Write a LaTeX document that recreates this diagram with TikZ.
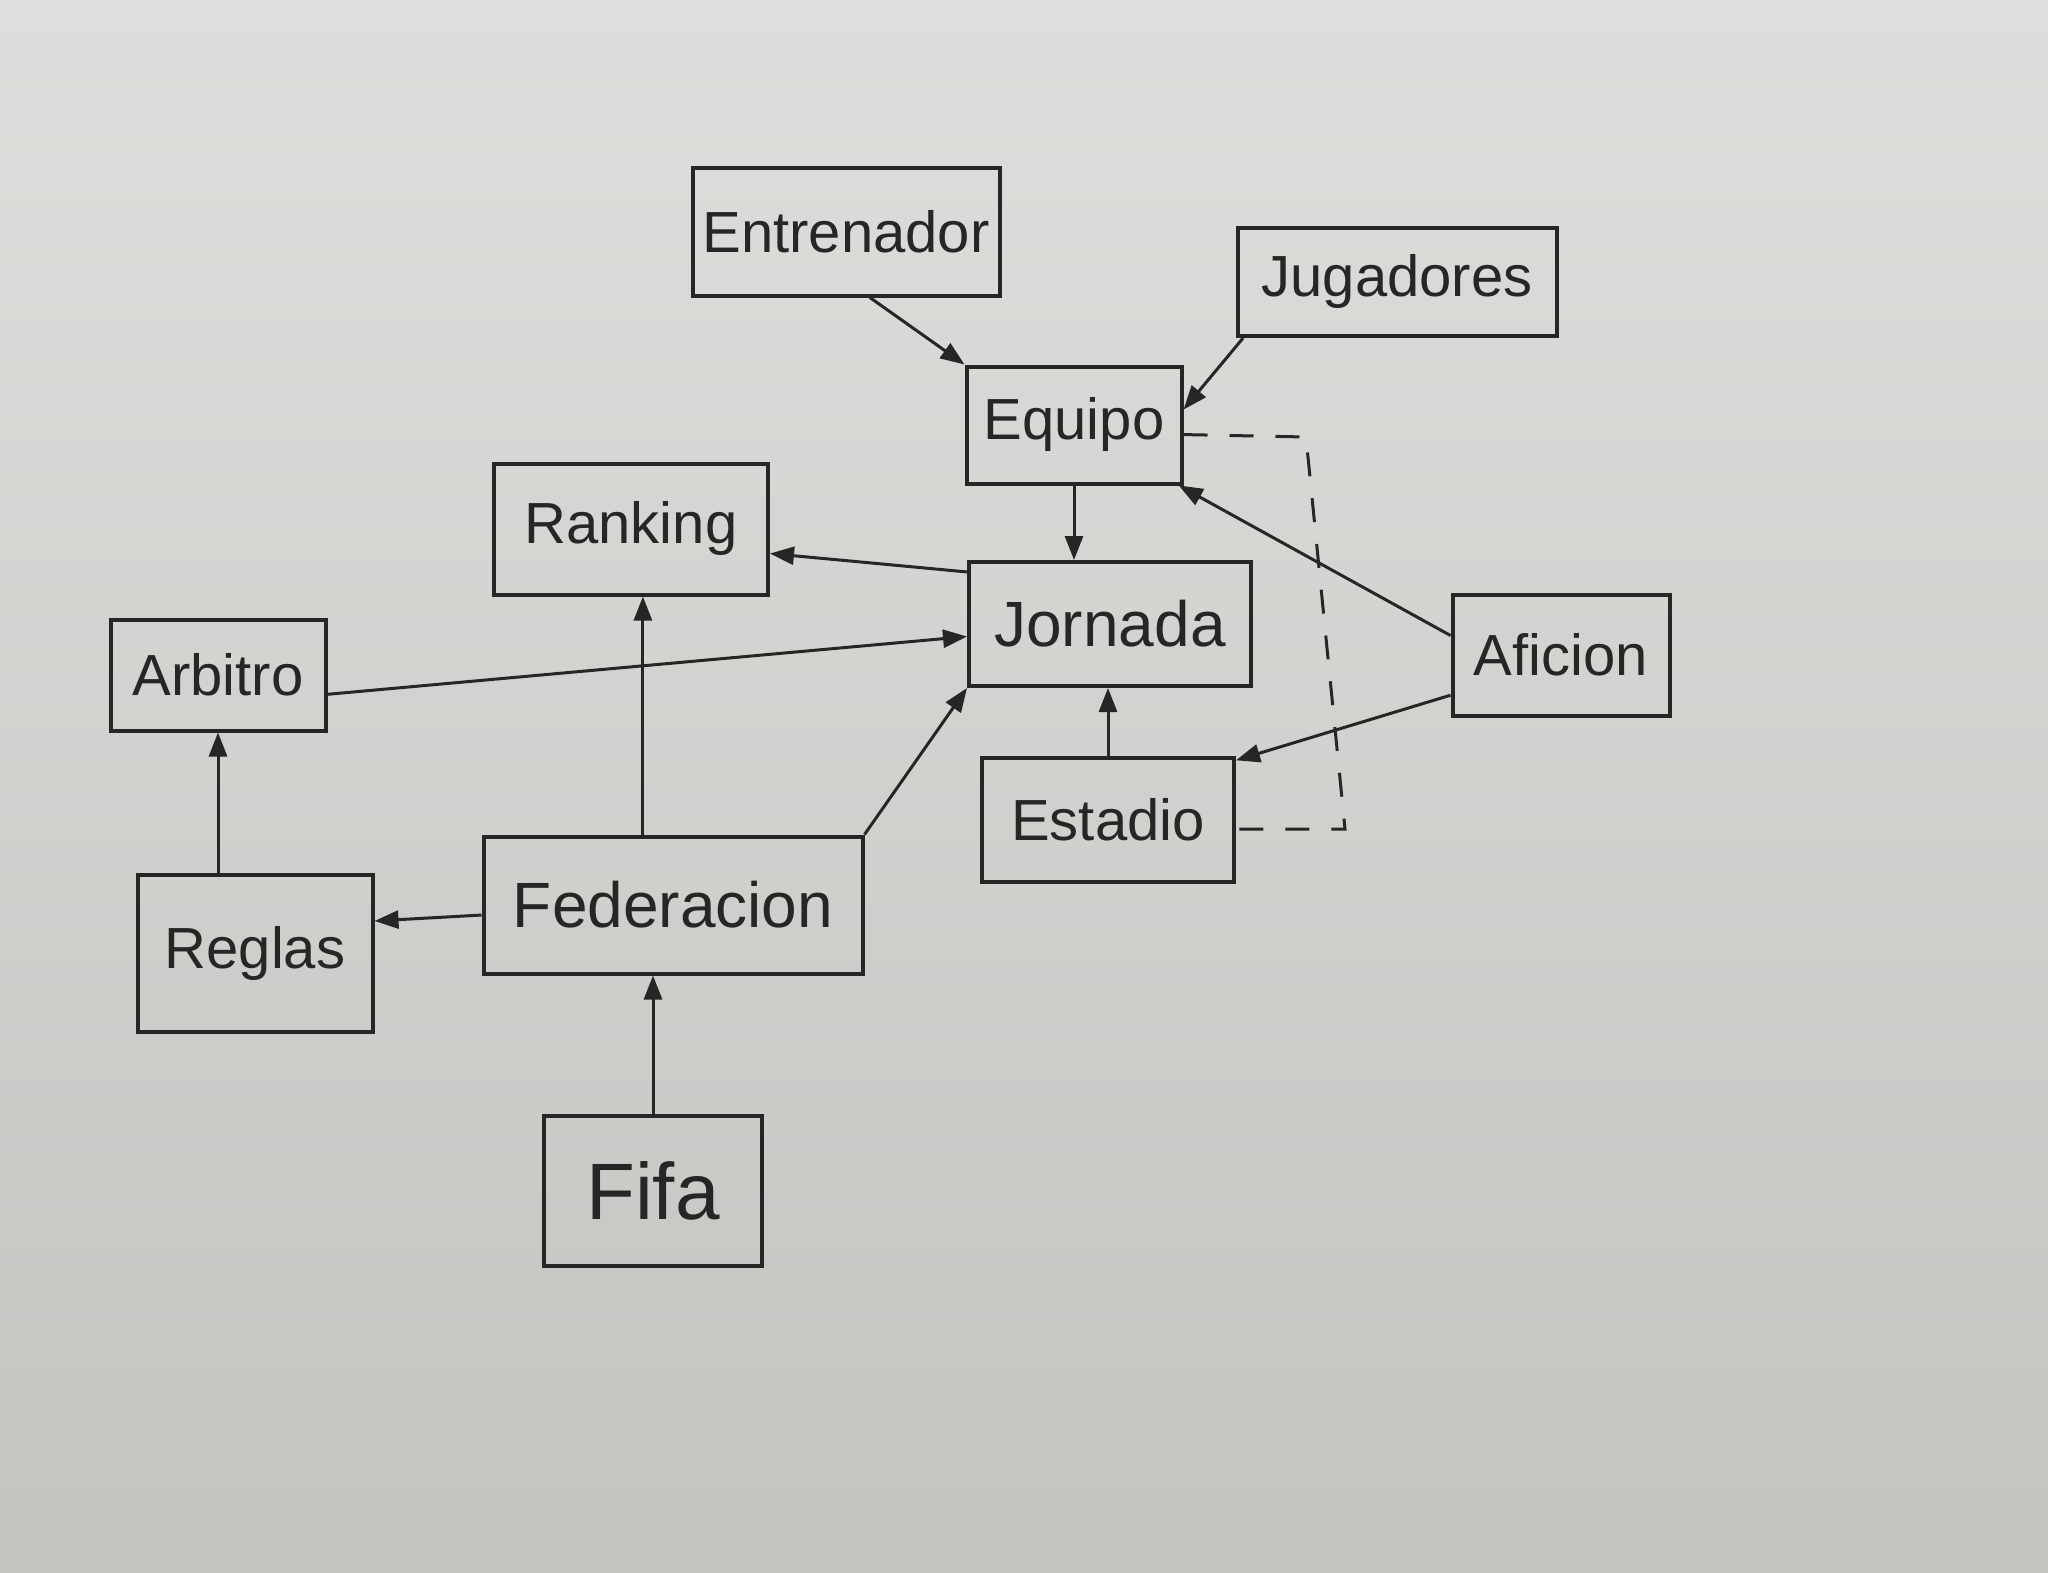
\documentclass[tikz,border=0pt]{standalone}
\usepackage{fontspec}
\setmainfont{Liberation Sans}
\usetikzlibrary{arrows.meta,calc}
\definecolor{ink}{RGB}{38,38,38}
\definecolor{paperT}{RGB}{222,222,220}
\definecolor{paperB}{RGB}{196,195,192}
\begin{document}
\begin{tikzpicture}[x=1pt,y=-1pt,
  box/.style={draw=ink, line width=4pt, text=ink, inner sep=0pt,
    font=\fontsize{58}{60}\selectfont},
  arr/.style={draw=ink, line width=3pt, -{Triangle[length=24pt,width=18pt]}},
  dashlink/.style={draw=ink, line width=3pt, dash pattern=on 24pt off 22pt}]
\shade[top color=paperT, bottom color=paperB] (0,0) rectangle (2048,1573);
\useasboundingbox (0,0) rectangle (2048,1573);

\node[box, minimum width=307pt, minimum height=127pt] (ent) at (846,232) {Entrenador};
\node[box, minimum width=319pt, minimum height=108pt] (jug) at (1397,282) {Jugadores};
\node[box, minimum width=215pt, minimum height=117pt] (eq) at (1074,425) {Equipo};
\node[box, minimum width=274pt, minimum height=131pt] (rank) at (631,529) {Ranking};
\node[box, minimum width=282pt, minimum height=124pt, font=\fontsize{64}{66}\selectfont] (jor) at (1110,624) {Jornada};
\node[box, minimum width=217pt, minimum height=121pt] (afi) at (1561,655) {Aficion};
\node[box, minimum width=215pt, minimum height=111pt] (arb) at (218,675) {Arbitro};
\node[box, minimum width=252pt, minimum height=124pt] (est) at (1108,820) {Estadio};
\node[box, minimum width=235pt, minimum height=157pt] (reg) at (255,953) {Reglas};
\node[box, minimum width=379pt, minimum height=137pt, font=\fontsize{64}{66}\selectfont] (fed) at (673,905) {Federacion};
\node[box, minimum width=218pt, minimum height=150pt, font=\fontsize{80}{82}\selectfont] (fifa) at (653,1191) {Fifa};

\coordinate (d1) at (1306,437);
\coordinate (d2) at (1345,829);

\draw[arr] (ent.-70) -- (eq.north west);
\draw[arr] (jug.-160) -- (eq.8);
\draw[arr] (eq.south) -- (eq.south |- jor.north);
\draw[arr] (jor.160) -- (rank.-10);
\draw[arr] (arb.-10) -- (jor.-175);
\draw[arr] (fed.north east) -- (jor.south west);
\draw[arr] (est.north) -- (est.north |- jor.south);
\draw[arr] (afi.170) -- (eq.-30);
\draw[arr] (afi.-160) -- (est.25);
\draw[arr] (fed.north -| rank.-80) -- (rank.-80);
\draw[arr] (reg.north -| arb.south) -- (arb.south);
\draw[arr] (fed.-177) -- (reg.15);
\draw[arr] (fifa.north) -- (fifa.north |- fed.south);
\draw[dashlink] (eq.-5) -- (d1) -- (d2) -- (d2 -| est.east);
\end{tikzpicture}
\end{document}
